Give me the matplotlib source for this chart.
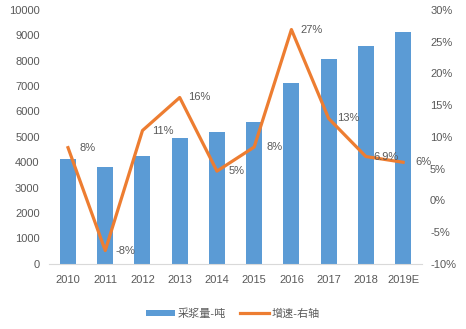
import matplotlib.pyplot as plt
from matplotlib.ticker import FuncFormatter

plt.rcParams['font.family'] = ['Liberation Sans', 'Noto Sans CJK SC']

years = ['2010', '2011', '2012', '2013', '2014', '2015', '2016', '2017', '2018', '2019E']
volume = [4130, 3830, 4260, 4970, 5180, 5600, 7140, 8070, 8590, 9120]
growth = [8.3, -7.9, 11.0, 16.2, 4.6, 8.4, 26.9, 12.9, 6.9, 6.0]
growth_labels = ['8%', '-8%', '11%', '16%', '5%', '8%', '27%', '13%', '6.9%', '6%']

blue = '#5B9BD5'
orange = '#ED7D31'
grey = '#595959'

fig = plt.figure(figsize=(4.66, 3.29), dpi=100)
ax = fig.add_axes([0.106, 0.198, 0.799, 0.772])
ax2 = ax.twinx()

x = list(range(len(years)))
bars = ax.bar(x, volume, width=0.43, color=blue, label='采浆量-吨', zorder=1)
line, = ax2.plot(x, growth, color=orange, lw=2.3, label='增速-右轴', zorder=3)

for xi, g, lab in zip(x, growth, growth_labels):
    ax2.annotate(lab, (xi, g), xytext=(20, 0), textcoords='offset pixels',
                 ha='center', va='center', fontsize=8, color=grey)

ax.set_xlim(-0.5, 9.5)
ax.set_ylim(0, 10000)
ax.set_yticks(range(0, 10001, 1000))
ax2.set_ylim(-10, 30)
ax2.set_yticks(range(-10, 31, 5))
ax2.yaxis.set_major_formatter(FuncFormatter(lambda v, p: f'{v:.0f}%'))

ax.set_xticks(x)
ax.set_xticklabels(years)

for a in (ax, ax2):
    for s in a.spines.values():
        s.set_visible(False)
    a.tick_params(length=0, labelsize=8, labelcolor=grey)
ax.spines['bottom'].set_visible(True)
ax.spines['bottom'].set_color('#D9D9D9')
ax.tick_params(axis='x', pad=8)
ax.tick_params(axis='y', pad=7)
ax2.tick_params(axis='y', pad=6)

ax.set_zorder(ax2.get_zorder() - 1)
ax.patch.set_visible(False)

fig.legend([bars, line], ['采浆量-吨', '增速-右轴'], loc='lower center',
           bbox_to_anchor=(0.5, 0.0), ncol=2, frameon=False, fontsize=8,
           labelcolor=grey, handlelength=2.6, handleheight=0.5,
           columnspacing=1.3, handletextpad=0.2)

fig.savefig('out.png', dpi=100)
